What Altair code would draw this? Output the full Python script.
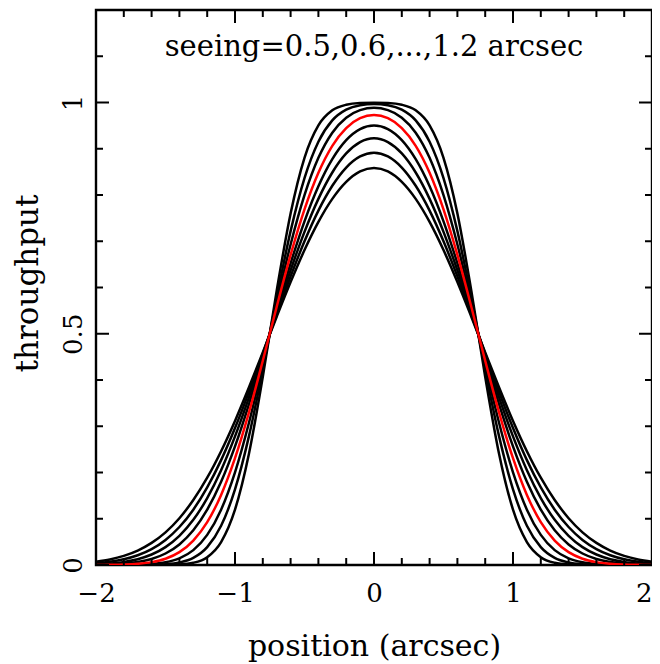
import altair as alt
import pandas as pd

positions = [-2.0, -1.9, -1.8, -1.7, -1.6, -1.5, -1.4, -1.3, -1.2, -1.1,
             -1.0, -0.9, -0.8, -0.7, -0.6, -0.5, -0.4, -0.3, -0.2, -0.1,
             0.0, 0.1, 0.2, 0.3, 0.4, 0.5, 0.6, 0.7, 0.8, 0.9,
             1.0, 1.1, 1.2, 1.3, 1.4, 1.5, 1.6, 1.7, 1.8, 1.9, 2.0]

seeing_05 = [0, 0, 0, 0, 0, 0.0002, 0.0011, 0.0048, 0.0170, 0.0496, 0.1196, 0.2400, 0.4070, 0.5930, 0.7600, 0.8804, 0.9504, 0.9830, 0.9952, 0.9989,
             0.9996,
             0.9989, 0.9952, 0.9830, 0.9504, 0.8804, 0.7600, 0.5930, 0.4070, 0.2400, 0.1196, 0.0496, 0.0170, 0.0048, 0.0011, 0.0002, 0, 0, 0, 0, 0]
seeing_06 = [0, 0, 0, 0.0001, 0.0004, 0.0016, 0.0054, 0.0154, 0.0387, 0.0848, 0.1634, 0.2781, 0.4222, 0.5778, 0.7219, 0.8366, 0.9152, 0.9613, 0.9845, 0.9942,
             0.9968,
             0.9942, 0.9845, 0.9613, 0.9152, 0.8366, 0.7219, 0.5778, 0.4222, 0.2781, 0.1634, 0.0848, 0.0387, 0.0154, 0.0054, 0.0016, 0.0004, 0.0001, 0, 0, 0]
seeing_07 = [0.0000, 0.0001, 0.0002, 0.0007, 0.0021, 0.0058, 0.0144, 0.0322, 0.0651, 0.1196, 0.2003, 0.3069, 0.4332, 0.5668, 0.6931, 0.7997, 0.8803, 0.9347, 0.9671, 0.9835,
             0.9884,
             0.9835, 0.9671, 0.9347, 0.8803, 0.7997, 0.6931, 0.5668, 0.4332, 0.3069, 0.2003, 0.1196, 0.0651, 0.0322, 0.0144, 0.0058, 0.0021, 0.0007, 0.0002, 0.0001, 0.0000]
seeing_08 = [0.0001, 0.0004, 0.0010, 0.0026, 0.0062, 0.0136, 0.0278, 0.0528, 0.0926, 0.1515, 0.2309, 0.3295, 0.4415, 0.5585, 0.6705, 0.7690, 0.8481, 0.9064, 0.9446, 0.9660,
             0.9728,
             0.9660, 0.9446, 0.9064, 0.8481, 0.7690, 0.6705, 0.5585, 0.4415, 0.3295, 0.2309, 0.1515, 0.0926, 0.0528, 0.0278, 0.0136, 0.0062, 0.0026, 0.0010, 0.0004, 0.0001]
seeing_09 = [0.0005, 0.0013, 0.0030, 0.0065, 0.0131, 0.0249, 0.0445, 0.0750, 0.1196, 0.1799, 0.2564, 0.3474, 0.4479, 0.5520, 0.6524, 0.7431, 0.8188, 0.8774, 0.9185, 0.9424,
             0.9502,
             0.9424, 0.9185, 0.8774, 0.8188, 0.7431, 0.6524, 0.5520, 0.4479, 0.3474, 0.2564, 0.1799, 0.1196, 0.0750, 0.0445, 0.0249, 0.0131, 0.0065, 0.0030, 0.0013, 0.0005]
seeing_10 = [0.0016, 0.0034, 0.0067, 0.0126, 0.0227, 0.0387, 0.0630, 0.0976, 0.1447, 0.2050, 0.2781, 0.3620, 0.4530, 0.5466, 0.6373, 0.7203, 0.7916, 0.8486, 0.8898, 0.9143,
             0.9226,
             0.9143, 0.8898, 0.8486, 0.7916, 0.7203, 0.6373, 0.5466, 0.4530, 0.3620, 0.2781, 0.2050, 0.1447, 0.0976, 0.0630, 0.0387, 0.0227, 0.0126, 0.0067, 0.0034, 0.0016]
seeing_11 = [0.0037, 0.0069, 0.0123, 0.0210, 0.0344, 0.0542, 0.0821, 0.1196, 0.1678, 0.2268, 0.2962, 0.3739, 0.4569, 0.5416, 0.6240, 0.7000, 0.7663, 0.8199, 0.8594, 0.8835,
             0.8916,
             0.8835, 0.8594, 0.8199, 0.7663, 0.7000, 0.6240, 0.5416, 0.4569, 0.3739, 0.2962, 0.2268, 0.1678, 0.1196, 0.0821, 0.0542, 0.0344, 0.0210, 0.0123, 0.0069, 0.0037]
seeing_12 = [0.0071, 0.0120, 0.0197, 0.0312, 0.0478, 0.0706, 0.1012, 0.1404, 0.1887, 0.2461, 0.3116, 0.3837, 0.4597, 0.5369, 0.6117, 0.6810, 0.7418, 0.7916, 0.8284, 0.8510,
             0.8586,
             0.8510, 0.8284, 0.7916, 0.7418, 0.6810, 0.6117, 0.5369, 0.4597, 0.3837, 0.3116, 0.2461, 0.1887, 0.1404, 0.1012, 0.0706, 0.0478, 0.0312, 0.0197, 0.0120, 0.0071]

black_series = {"0.5": seeing_05, "0.6": seeing_06, "0.7": seeing_07, "0.9": seeing_09,
                "1.0": seeing_10, "1.1": seeing_11, "1.2": seeing_12}
red_series = {"0.8": seeing_08}

x_major = [-2, -1, 0, 1, 2]
x_minor = [-1.8, -1.6, -1.4, -1.2, -0.8, -0.6, -0.4, -0.2, 0.2, 0.4, 0.6, 0.8, 1.2, 1.4, 1.6, 1.8]
y_major = [0, 0.5, 1]
y_minor = [0.1, 0.2, 0.3, 0.4, 0.6, 0.7, 0.8, 0.9, 1.1]

title_text = "seeing=0.5,0.6,...,1.2 arcsec"
FONT = "DejaVu Serif"
W, H = 556, 555


def long_df(series):
    rows = []
    for k, vals in series.items():
        for xp, v in zip(positions, vals):
            rows.append({"seeing": k, "x": xp, "y": v})
    return pd.DataFrame(rows)


xscale = alt.Scale(domain=[-2, 2], nice=False, zero=False)
yscale = alt.Scale(domain=[0, 1.2], nice=False, zero=False)

x_axis = alt.Axis(values=x_major, ticks=False, domain=False, grid=False,
                  labelFont=FONT, labelFontSize=26, labelColor="black", labelPadding=15,
                  labelFlush=False,
                  labelAlign=alt.ConditionalAxisLabelAlign(
                      condition={"test": "datum.value >= 2", "value": "right"}, value="center"),
                  title="position (arcsec)", titleFont=FONT, titleFontSize=30,
                  titleFontWeight="normal", titleColor="black",
                  titleY=90, titleBaseline="alphabetic")
y_axis = alt.Axis(values=y_major, format="~g", ticks=False, domain=False, grid=False,
                  labelFont=FONT, labelFontSize=26, labelColor="black", labelPadding=10,
                  labelFlush=False,
                  labelAngle=270, labelAlign="center", labelBaseline="bottom",
                  title="throughput", titleFont=FONT, titleFontSize=31,
                  titleFontWeight="normal", titleColor="black",
                  titleX=-68, titleY=273, titleBaseline="middle", titleAlign="center")

X = alt.X("x:Q", scale=xscale, axis=x_axis)
Y = alt.Y("y:Q", scale=yscale, axis=y_axis)

black = alt.Chart(long_df(black_series)).mark_line(
    color="black", strokeWidth=2.5, interpolate="monotone", clip=True
).encode(x=X, y=Y, detail="seeing:N")
red = alt.Chart(long_df(red_series)).mark_line(
    color="#ff0000", strokeWidth=2.5, interpolate="monotone", clip=True
).encode(x=X, y=Y)


def xticks(vals, length):
    d = pd.DataFrame({"x": vals})
    bottom = alt.Chart(d).mark_rule(color="black", strokeWidth=2).encode(
        x=X, y=alt.value(H), y2=alt.value(H - length))
    top = alt.Chart(d).mark_rule(color="black", strokeWidth=2).encode(
        x=X, y=alt.value(0), y2=alt.value(length))
    return [bottom, top]


def yticks(vals, length):
    d = pd.DataFrame({"y": vals})
    left = alt.Chart(d).mark_rule(color="black", strokeWidth=2).encode(
        y=Y, x=alt.value(0), x2=alt.value(length))
    right = alt.Chart(d).mark_rule(color="black", strokeWidth=2).encode(
        y=Y, x=alt.value(W), x2=alt.value(W - length))
    return [left, right]


title = alt.Chart(pd.DataFrame({"t": [title_text]})).mark_text(
    font=FONT, fontSize=29, color="black", align="center", baseline="middle"
).encode(text="t:N", x=alt.value(W / 2), y=alt.value(37))

layers = [black, red] + xticks(x_major, 13) + xticks(x_minor, 7) + yticks(y_major, 13) + yticks(y_minor, 7) + [title]

chart = alt.layer(*layers).properties(
    width=W, height=H,
    autosize=alt.AutoSizeParams(type="none"),
    padding={"left": 88, "top": 2, "right": 0, "bottom": 97},
).configure_view(stroke="black", strokeWidth=2.4)

chart.save("out.html", embed_options={"renderer": "svg", "actions": False})
